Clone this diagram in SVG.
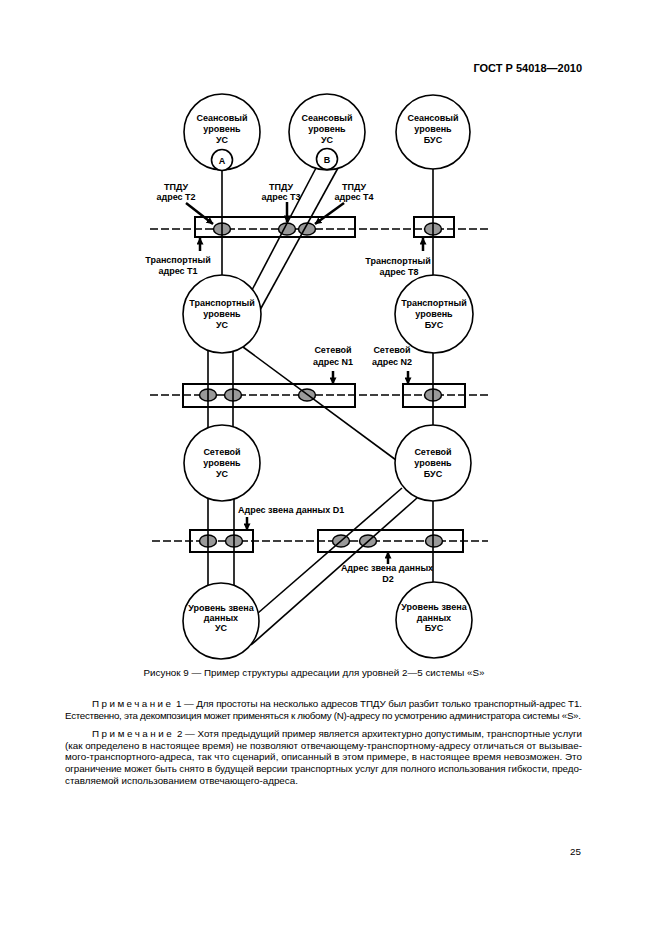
<svg xmlns="http://www.w3.org/2000/svg" width="661" height="935" viewBox="0 0 661 935">
<defs>
<marker id="ah" markerUnits="userSpaceOnUse" markerWidth="7" markerHeight="7" viewBox="0 0 8 8" refX="7.5" refY="4" orient="auto"><path d="M0,0 L8,4 L0,8 z" fill="#000"/></marker>
</defs>
<style>
.c{fill:#fff;stroke:#000;stroke-width:1.6}
.t{font-family:"Liberation Sans",Arial,sans-serif;font-weight:bold;font-size:9px;text-anchor:middle;fill:#000}
.ln{stroke:#000;stroke-width:1.6;fill:none}
.dash{stroke:#000;stroke-width:1.6;stroke-dasharray:8 3;fill:none}
.box{fill:none;stroke:#000;stroke-width:2}
.el{fill:#999;stroke:#000;stroke-width:1.5}
.ar{stroke:#000;stroke-width:2.5;fill:none;marker-end:url(#ah)}
.body{font-family:"Liberation Sans",Arial,sans-serif;font-size:9.8px;fill:#000}
.sp{letter-spacing:2.6px}
</style>
<rect width="661" height="935" fill="#fff"/>

<text x="582" y="72" font-family="'Liberation Sans',Arial,sans-serif" font-weight="bold" font-size="11" text-anchor="end">ГОСТ Р 54018—2010</text>

<g id="layer-lines">
<line class="dash" x1="150" y1="229" x2="490" y2="229"/>
<line class="dash" x1="150" y1="395" x2="490" y2="395"/>
<line class="dash" x1="152" y1="541" x2="488" y2="541"/>
</g>

<g id="addr-transport">
<ellipse class="el" cx="222" cy="229" rx="8.5" ry="6"/>
<ellipse class="el" cx="287" cy="229" rx="8.5" ry="6"/>
<ellipse class="el" cx="307" cy="229" rx="8.5" ry="6"/>
<ellipse class="el" cx="433" cy="229" rx="8.5" ry="6"/>
<rect class="box" x="195" y="217" width="160" height="20"/>
<rect class="box" x="414" y="217" width="40" height="20"/>
</g>
<g id="addr-network">
<ellipse class="el" cx="208" cy="395" rx="8.5" ry="6"/>
<ellipse class="el" cx="233" cy="395" rx="8.5" ry="6"/>
<ellipse class="el" cx="307" cy="395" rx="8.5" ry="6"/>
<ellipse class="el" cx="433" cy="395" rx="8.5" ry="6"/>
<rect class="box" x="183" y="384" width="172" height="23"/>
<rect class="box" x="403" y="384" width="62" height="23"/>
</g>
<g id="addr-datalink">
<ellipse class="el" cx="208" cy="541" rx="8.5" ry="6"/>
<ellipse class="el" cx="234" cy="541" rx="8.5" ry="6"/>
<ellipse class="el" cx="341" cy="541" rx="8.5" ry="6"/>
<ellipse class="el" cx="368" cy="541" rx="8.5" ry="6"/>
<ellipse class="el" cx="434" cy="541" rx="8.5" ry="6"/>
<rect class="box" x="190" y="530" width="63" height="22"/>
<rect class="box" x="318" y="530" width="145" height="22"/>
</g>

<g id="connectors">
<line class="ln" x1="222" y1="170" x2="222" y2="276"/>
<line class="ln" x1="316" y1="168" x2="252" y2="290"/>
<line class="ln" x1="338" y1="168" x2="260" y2="310"/>
<line class="ln" x1="433" y1="168" x2="433" y2="276"/>
<line class="ln" x1="208" y1="348" x2="208" y2="429"/>
<line class="ln" x1="233" y1="348" x2="233" y2="429"/>
<line class="ln" x1="243" y1="347" x2="396" y2="460"/>
<line class="ln" x1="433" y1="352" x2="433" y2="426"/>
<line class="ln" x1="208" y1="497" x2="208" y2="586"/>
<line class="ln" x1="234" y1="497" x2="234" y2="586"/>
<line class="ln" x1="402" y1="488" x2="258" y2="613"/>
<line class="ln" x1="417" y1="498" x2="251" y2="645"/>
<line class="ln" x1="433" y1="500" x2="433" y2="583"/>
</g>

<g id="session-us-a">
<circle class="c" cx="222" cy="132" r="38"/>
<text class="t" x="222" y="121">Сеансовый</text>
<text class="t" x="222" y="132">уровень</text>
<text class="t" x="222" y="143">УС</text>
<circle class="c" cx="222" cy="160" r="10.5"/>
<text class="t" x="222" y="163.5">A</text>
</g>
<g id="session-us-b">
<circle class="c" cx="327" cy="132" r="38"/>
<text class="t" x="327" y="121">Сеансовый</text>
<text class="t" x="327" y="132">уровень</text>
<text class="t" x="327" y="143">УС</text>
<circle class="c" cx="327" cy="159" r="10.5"/>
<text class="t" x="327" y="162.5">B</text>
</g>
<g id="session-bus">
<circle class="c" cx="433" cy="132" r="37"/>
<text class="t" x="433" y="121">Сеансовый</text>
<text class="t" x="433" y="132">уровень</text>
<text class="t" x="433" y="143">БУС</text>
</g>
<g id="transport-us">
<circle class="c" cx="222" cy="314" r="39"/>
<text class="t" x="222" y="306">Транспортный</text>
<text class="t" x="222" y="317">уровень</text>
<text class="t" x="222" y="328">УС</text>
</g>
<g id="transport-bus">
<circle class="c" cx="434" cy="314" r="39"/>
<text class="t" x="434" y="306">Транспортный</text>
<text class="t" x="434" y="317">уровень</text>
<text class="t" x="434" y="328">БУС</text>
</g>
<g id="network-us">
<circle class="c" cx="222" cy="463" r="38"/>
<text class="t" x="222" y="455">Сетевой</text>
<text class="t" x="222" y="466">уровень</text>
<text class="t" x="222" y="477">УС</text>
</g>
<g id="network-bus">
<circle class="c" cx="433" cy="463" r="38"/>
<text class="t" x="433" y="455">Сетевой</text>
<text class="t" x="433" y="466">уровень</text>
<text class="t" x="433" y="477">БУС</text>
</g>
<g id="datalink-us">
<circle class="c" cx="221" cy="621" r="38"/>
<text class="t" x="221" y="611">Уровень звена</text>
<text class="t" x="221" y="621">данных</text>
<text class="t" x="221" y="631">УС</text>
</g>
<g id="datalink-bus">
<circle class="c" cx="434" cy="620" r="38"/>
<text class="t" x="434" y="610">Уровень звена</text>
<text class="t" x="434" y="621">данных</text>
<text class="t" x="434" y="631">БУС</text>
</g>

<g id="labels">
<text class="t" x="176" y="190">ТПДУ</text>
<text class="t" x="176" y="200">адрес Т2</text>
<line class="ar" x1="186" y1="203" x2="213" y2="224"/>
<text class="t" x="281" y="190">ТПДУ</text>
<text class="t" x="281" y="200">адрес Т3</text>
<line class="ar" x1="287" y1="202" x2="287" y2="222"/>
<text class="t" x="354" y="190">ТПДУ</text>
<text class="t" x="354" y="200">адрес Т4</text>
<line class="ar" x1="344" y1="203" x2="315" y2="224"/>
<line class="ar" x1="200" y1="251" x2="200" y2="238"/>
<text class="t" x="178" y="263">Транспортный</text>
<text class="t" x="178" y="274">адрес Т1</text>
<line class="ar" x1="423" y1="251" x2="423" y2="238"/>
<text class="t" x="398" y="264">Транспортный</text>
<text class="t" x="399" y="275">адрес Т8</text>
<text class="t" x="333" y="353">Сетевой</text>
<text class="t" x="333" y="365">адрес N1</text>
<line class="ar" x1="333" y1="371" x2="333" y2="384"/>
<text class="t" x="392" y="353">Сетевой</text>
<text class="t" x="392" y="365">адрес N2</text>
<line class="ar" x1="408" y1="371" x2="408" y2="384"/>
<text class="t" x="238" y="513" style="text-anchor:start">Адрес звена данных D1</text>
<line class="ar" x1="247" y1="517" x2="247" y2="530"/>
<line class="ar" x1="388" y1="564" x2="388" y2="552"/>
<text class="t" x="387" y="571">Адрес звена данных</text>
<text class="t" x="388" y="582">D2</text>
</g>

<g id="caption">
<text class="body" x="314" y="676" text-anchor="middle" font-size="10.3">Рисунок 9 — Пример структуры адресации для уровней 2—5 системы «S»</text>
<text class="body" x="92" y="707" textLength="490" lengthAdjust="spacing"><tspan class="sp">Примечание</tspan> 1 — Для простоты на несколько адресов ТПДУ был разбит только транспортный-адрес Т1.</text>
<text class="body" x="65" y="719" textLength="516" lengthAdjust="spacing">Естественно, эта декомпозиция может применяться к любому (N)-адресу по усмотрению администратора системы «S».</text>
<text class="body" x="92" y="737" textLength="490" lengthAdjust="spacing"><tspan class="sp">Примечание</tspan> 2 — Хотя предыдущий пример является архитектурно допустимым, транспортные услуги</text>
<text class="body" x="65" y="749" textLength="517" lengthAdjust="spacing">(как определено в настоящее время) не позволяют отвечающему-транспортному-адресу отличаться от вызывае-</text>
<text class="body" x="65" y="760" textLength="517" lengthAdjust="spacing">мого-транспортного-адреса, так что сценарий, описанный в этом примере, в настоящее время невозможен. Это</text>
<text class="body" x="65" y="772" textLength="517" lengthAdjust="spacing">ограничение может быть снято в будущей версии транспортных услуг для полного использования гибкости, предо-</text>
<text class="body" x="65" y="784">ставляемой использованием отвечающего-адреса.</text>
</g>

<text class="body" x="581" y="855" text-anchor="end" font-size="10">25</text>
</svg>
